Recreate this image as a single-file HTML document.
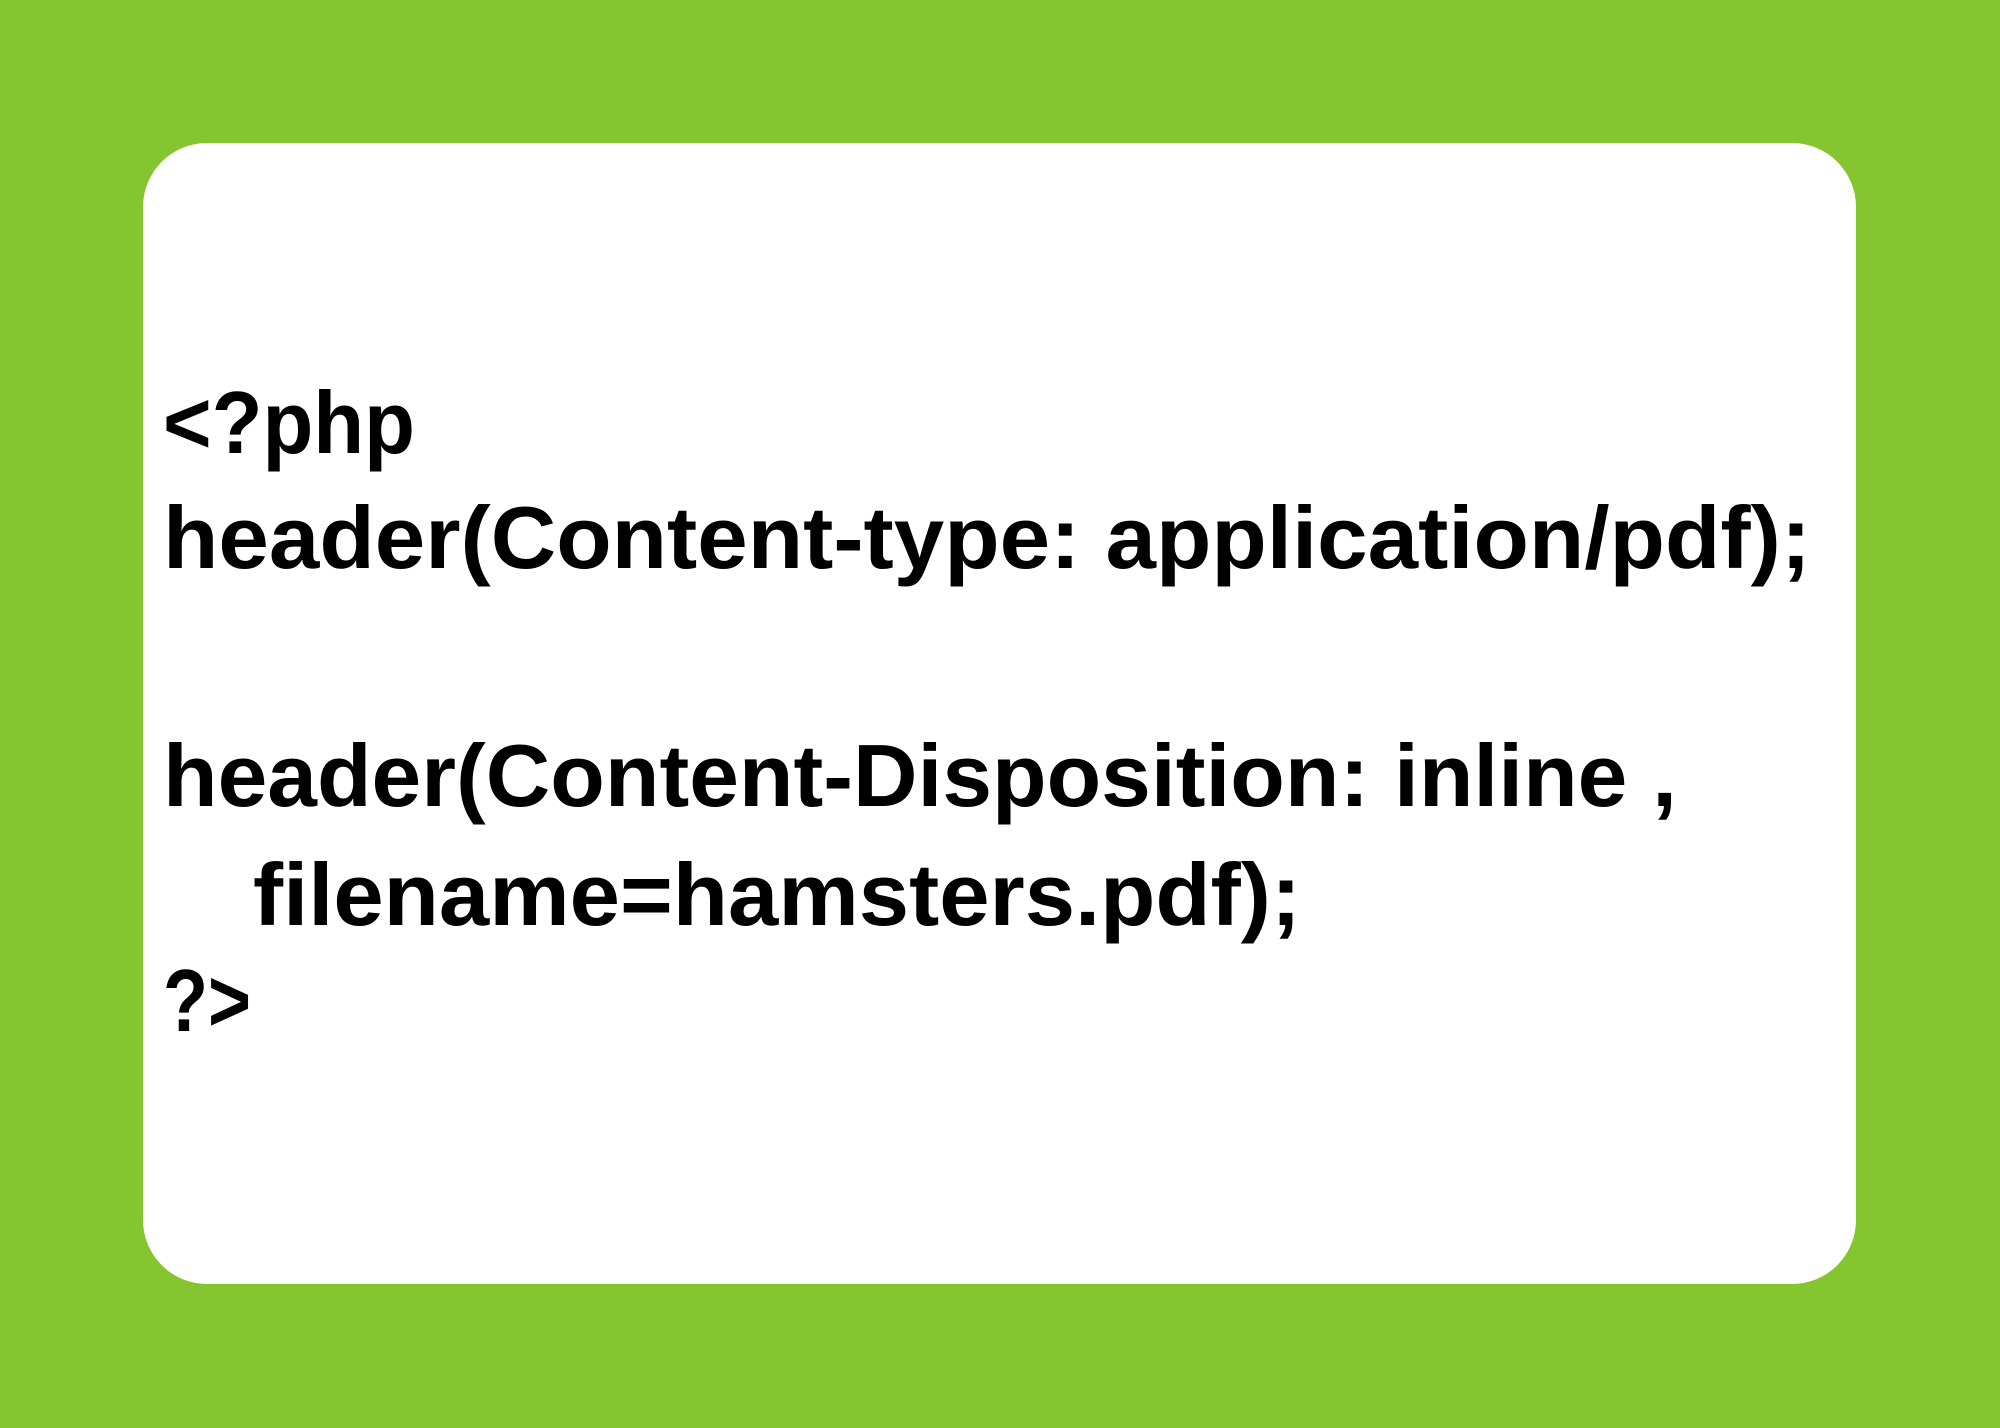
<!DOCTYPE html>
<html>
<head>
<meta charset="utf-8">
<style>
  html, body { margin: 0; padding: 0; }
  body { width: 2000px; height: 1428px; background: #85c52f; overflow: hidden; }
  svg { display: block; }
  text { font-family: "Liberation Sans", "DejaVu Sans", sans-serif; font-weight: bold; font-size: 88px; fill: #000; }
</style>
</head>
<body>
<svg width="2000" height="1428" viewBox="0 0 2000 1428">
  <rect x="0" y="0" width="2000" height="1428" fill="#85c52f"/>
  <rect x="143" y="143" width="1713" height="1141" rx="64" ry="64" fill="#ffffff"/>
  <text x="163" y="453" textLength="252" lengthAdjust="spacingAndGlyphs">&lt;?php</text>
  <text x="163" y="568" textLength="1648" lengthAdjust="spacingAndGlyphs">header(Content-type: application/pdf);</text>
  <text x="163" y="806" textLength="1514" lengthAdjust="spacingAndGlyphs">header(Content-Disposition: inline ,</text>
  <text x="253" y="925" textLength="1048" lengthAdjust="spacingAndGlyphs">filename=hamsters.pdf);</text>
  <text x="163" y="1031" textLength="88" lengthAdjust="spacingAndGlyphs">?&gt;</text>
</svg>
</body>
</html>
